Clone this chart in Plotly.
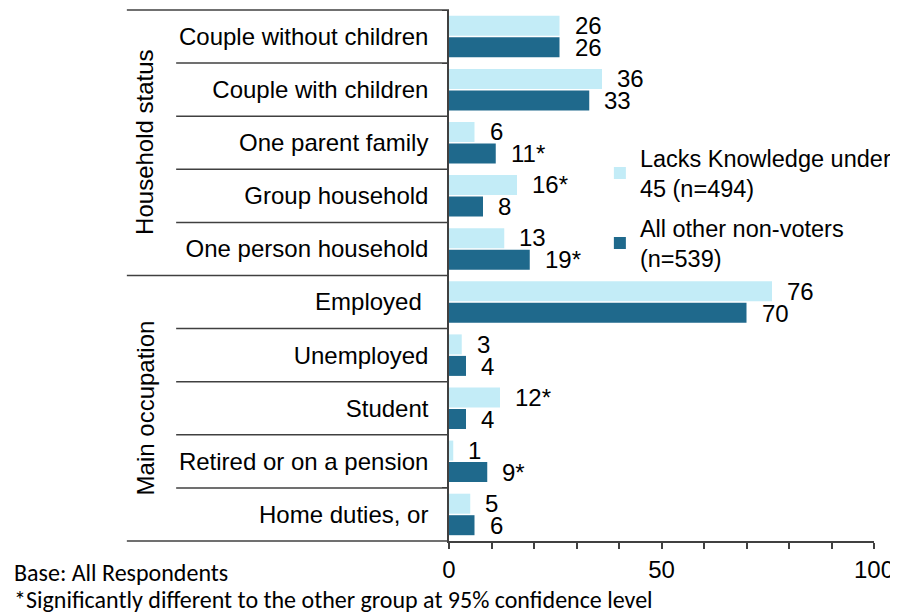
import plotly.graph_objects as go

categories = [
    "Couple without children",
    "Couple with children",
    "One parent family",
    "Group household",
    "One person household",
    "Employed ",
    "Unemployed",
    "Student",
    "Retired or on a pension",
    "Home duties, or",
]
lacks_knowledge = [26, 36, 6, 16, 13, 76, 3, 12, 1, 5]
lacks_labels = ["26", "36", "6", "16*", "13", "76", "3", "12*", "1", "5"]
other_nonvoters = [26, 33, 11, 8, 19, 70, 4, 4, 9, 6]
other_labels = ["26", "33", "11*", "8", "19*", "70", "4", "4", "9*", "6"]
groups = ["Household status", "Main occupation"]

LIGHT = "#C3ECF7"
DARK = "#1F698C"
LINE = "#404040"
FONT = "Liberation Sans, Arial, sans-serif"
NOTE_FONT = "Carlito, Lato, sans-serif"
FS = 24

fig = go.Figure()
fig.add_trace(go.Bar(
    y=categories, x=lacks_knowledge, orientation="h",
    name="Lacks Knowledge under<br>45 (n=494)", legendgroup="a",
    marker=dict(color=LIGHT, line=dict(width=0)),
))
fig.add_trace(go.Bar(
    y=categories, x=other_nonvoters, orientation="h",
    name="All other non-voters<br>(n=539)", legendgroup="b",
    marker=dict(color=DARK, line=dict(width=0)),
))

annotations = []
for cat, v, t in zip(categories, lacks_knowledge, lacks_labels):
    annotations.append(dict(x=v, y=cat, xref="x", yref="y", text=t, showarrow=False,
                            xanchor="left", xshift=13, yshift=11,
                            font=dict(size=FS, color="black", family=FONT)))
for cat, v, t in zip(categories, other_nonvoters, other_labels):
    annotations.append(dict(x=v, y=cat, xref="x", yref="y", text=t, showarrow=False,
                            xanchor="left", xshift=13, yshift=-11,
                            font=dict(size=FS, color="black", family=FONT)))

# rotated group labels
for g, yc in zip(groups, [0.75, 0.25]):
    annotations.append(dict(x=-0.715, y=yc, xref="paper", yref="paper", text=g,
                            textangle=-90, showarrow=False,
                            xanchor="center", yanchor="middle",
                            font=dict(size=FS, color="black", family=FONT)))

# footnotes
annotations.append(dict(x=-1.028, y=-0.0584, xref="paper", yref="paper",
                        text="Base: All Respondents", showarrow=False,
                        xanchor="left", yanchor="middle",
                        font=dict(size=24, color="black", family=NOTE_FONT)))
annotations.append(dict(x=-1.028, y=-0.111, xref="paper", yref="paper",
                        text="*Significantly different to the other group at 95% confidence level",
                        showarrow=False, xanchor="left", yanchor="middle",
                        font=dict(size=24, color="black", family=NOTE_FONT)))

# separators between categories
shapes = []
n = len(categories)
for k in range(n + 1):
    yp = 1 - k / n
    x0 = -0.758 if k in (0, 5, n) else -0.642
    shapes.append(dict(type="line", xref="paper", yref="paper", x0=x0, x1=0,
                       y0=yp, y1=yp, line=dict(color=LINE, width=1.5)))

# the page body adds an 8px offset, so the figure is sized to fit inside it
fig.update_layout(
    width=890, height=607,
    margin=dict(l=441, r=24, t=2, b=74, autoexpand=False),
    plot_bgcolor="white", paper_bgcolor="white",
    barmode="group", bargap=0.19, bargroupgap=0.07,
    font=dict(family=FONT, size=FS, color="black"),
    showlegend=True,
    legend=dict(x=0.355, y=0.763, xanchor="left", yanchor="top",
                bgcolor="rgba(0,0,0,0)", font=dict(size=23.5),
                tracegroupgap=6, itemwidth=30, traceorder="grouped"),
    annotations=annotations,
    shapes=shapes,
)
fig.update_xaxes(
    range=[0, 100], dtick=50, showgrid=False, zeroline=False, automargin=False,
    showline=True, linecolor=LINE, linewidth=1.5,
    ticks="outside", ticklen=6, tickcolor=LINE, tickwidth=1.5,
    minor=dict(dtick=10, ticks="outside", ticklen=6, tickcolor=LINE, tickwidth=1.5),
    tickfont=dict(size=FS),
)
fig.update_yaxes(
    autorange="reversed", showgrid=False, automargin=False,
    showline=True, linecolor=LINE, linewidth=1.5,
    ticks="outside", tickson="boundaries", ticklen=5, tickcolor=LINE,
    ticklabelstandoff=14, tickfont=dict(size=FS),
)

fig.write_html("out.html")
